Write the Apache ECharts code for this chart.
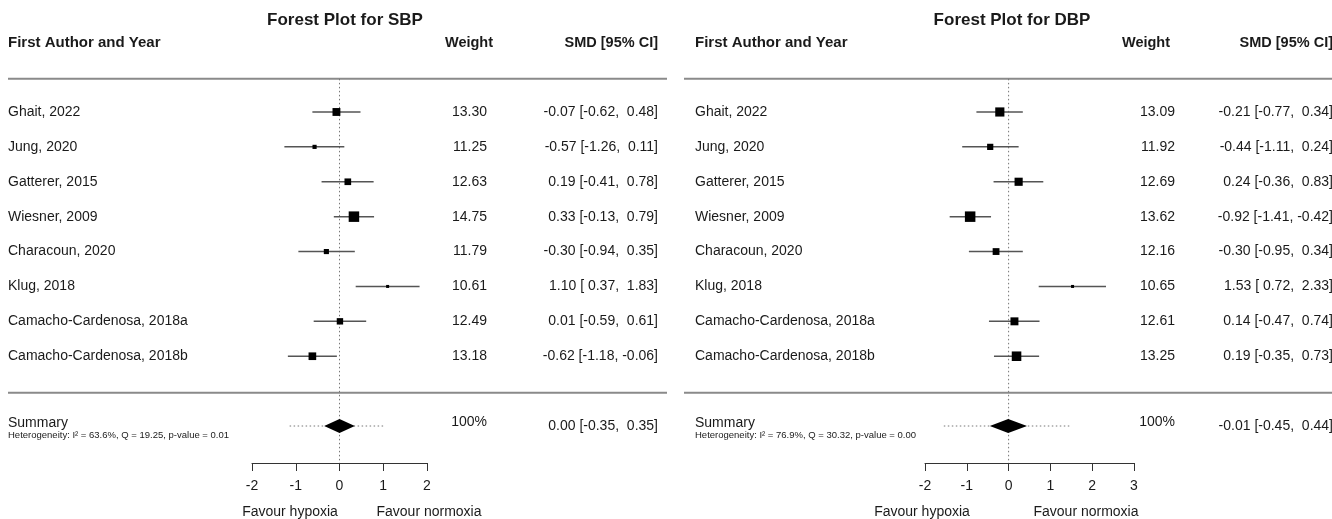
<!DOCTYPE html>
<html>
<head>
<meta charset="utf-8">
<script src="https://cdn.jsdelivr.net/npm/echarts@6/dist/echarts.min.js"></script>
<style>
  html, body { margin: 0; padding: 0; background: #fff; }
  #chart { width: 1332px; height: 519px; }
</style>
</head>
<body>
<div id="chart"></div>
<script>
// studies (same order in both plots)
const studies = [
  'Ghait, 2022', 'Jung, 2020', 'Gatterer, 2015', 'Wiesner, 2009',
  'Characoun, 2020', 'Klug, 2018', 'Camacho-Cardenosa, 2018a', 'Camacho-Cardenosa, 2018b'
];

// SBP
const sbpSmd    = [-0.07, -0.57, 0.19, 0.33, -0.30, 1.10, 0.01, -0.62];
const sbpLow    = [-0.62, -1.26, -0.41, -0.13, -0.94, 0.37, -0.59, -1.18];
const sbpHigh   = [0.48, 0.11, 0.78, 0.79, 0.35, 1.83, 0.61, -0.06];
const sbpWeight = [13.30, 11.25, 12.63, 14.75, 11.79, 10.61, 12.49, 13.18];
const sbpSummary = [0.00, -0.35, 0.35];
const sbpPredInt = [-1.14, 1.02];
const sbpHet = 'Heterogeneity: I² = 63.6%, Q = 19.25, p-value = 0.01';
const sbpTicks = [-2, -1, 0, 1, 2];

// DBP
const dbpSmd    = [-0.21, -0.44, 0.24, -0.92, -0.30, 1.53, 0.14, 0.19];
const dbpLow    = [-0.77, -1.11, -0.36, -1.41, -0.95, 0.72, -0.47, -0.35];
const dbpHigh   = [0.34, 0.24, 0.83, -0.42, 0.34, 2.33, 0.74, 0.73];
const dbpWeight = [13.09, 11.92, 12.69, 13.62, 12.16, 10.65, 12.61, 13.25];
const dbpSummary = [-0.01, -0.45, 0.44];
const dbpPredInt = [-1.55, 1.48];
const dbpHet = 'Heterogeneity: I² = 76.9%, Q = 30.32, p-value = 0.00';
const dbpTicks = [-2, -1, 0, 1, 2, 3];

const FONT = '"Liberation Sans", Arial, sans-serif';
const SUMMARY_ROW = 9;
const TOP_RULE = -0.95;
const BOTTOM_RULE = 8.05;
const AXIS_ROW = 10.06;

// layout per panel (pixel columns)
const panels = [
  {
    title: 'Forest Plot for SBP', titleX: 340,
    smd: sbpSmd, low: sbpLow, high: sbpHigh, weight: sbpWeight,
    summary: sbpSummary, pred: sbpPredInt, het: sbpHet, ticks: sbpTicks,
    gridLeft: 252, gridWidth: 175,
    nameX: 8, weightX: 487, weightHeadX: 469, smdX: 658, ruleX: [8, 667],
    favour: [290, 429]
  },
  {
    title: 'Forest Plot for DBP', titleX: 1007,
    smd: dbpSmd, low: dbpLow, high: dbpHigh, weight: dbpWeight,
    summary: dbpSummary, pred: dbpPredInt, het: dbpHet, ticks: dbpTicks,
    gridLeft: 925, gridWidth: 209,
    nameX: 695, weightX: 1175, weightHeadX: 1146, smdX: 1333, ruleX: [684, 1332],
    favour: [922, 1086]
  }
];

const fmt = v => (v < 0 ? '-' : '') + Math.abs(v).toFixed(2);
const fmtCI = (m, l, h) =>
  fmt(m) + ' [' + (l < 0 ? fmt(l) : ' ' + fmt(l)) + ', ' + (h < 0 ? fmt(h) : ' ' + fmt(h)) + ']';

function txt(text, x, y, opts) {
  return {
    type: 'text',
    style: Object.assign({
      text: text, x: x, y: y,
      fill: '#1a1a1a', fontSize: 14, fontFamily: FONT,
      align: 'left', verticalAlign: 'middle'
    }, opts || {})
  };
}

const grids = [], xAxes = [], yAxes = [], series = [], titles = [], graphics = [];

panels.forEach((p, pi) => {
  grids.push({ left: p.gridLeft, width: p.gridWidth, top: 7.3, bottom: 56 });
  xAxes.push({
    gridIndex: pi, type: 'value', position: 'bottom',
    min: p.ticks[0], max: p.ticks[p.ticks.length - 1], interval: 1,
    splitLine: { show: false },
    axisLine: { show: true, onZero: false, lineStyle: { color: '#333', width: 1 } },
    axisTick: { show: true, inside: false, length: 8, lineStyle: { color: '#333' } },
    axisLabel: { color: '#1a1a1a', fontSize: 14, fontFamily: FONT, margin: 16 }
  });
  yAxes.push({
    gridIndex: pi, type: 'value', inverse: true, min: -3, max: AXIS_ROW, show: false
  });

  const minW = Math.min.apply(null, p.weight);
  const maxW = Math.max.apply(null, p.weight);

  // frame: rules + zero line
  series.push({
    type: 'custom', xAxisIndex: pi, yAxisIndex: pi, clip: false, silent: true,
    data: [[0]],
    renderItem: (params, api) => {
      const top = api.coord([0, TOP_RULE]);
      const bot = api.coord([0, BOTTOM_RULE]);
      const ax = api.coord([0, AXIS_ROW]);
      const ruleStyle = { stroke: '#8a8a8a', lineWidth: 2 };
      return {
        type: 'group',
        children: [
          { type: 'line', shape: { x1: p.ruleX[0], y1: top[1], x2: p.ruleX[1], y2: top[1] }, style: ruleStyle },
          { type: 'line', shape: { x1: p.ruleX[0], y1: bot[1], x2: p.ruleX[1], y2: bot[1] }, style: ruleStyle },
          { type: 'line', shape: { x1: top[0], y1: top[1], x2: ax[0], y2: ax[1] },
            style: { stroke: '#777', lineWidth: 1, lineDash: [1.5, 2.5] } }
        ]
      };
    }
  });

  // studies
  series.push({
    type: 'custom', xAxisIndex: pi, yAxisIndex: pi, clip: false, silent: true,
    data: studies.map((s, i) => [p.smd[i], p.low[i], p.high[i], p.weight[i], i]),
    encode: { x: [0, 1, 2], y: 4 },
    renderItem: (params, api) => {
      const i = params.dataIndex;
      const row = api.value(4);
      const c = api.coord([api.value(0), row]);
      const lo = api.coord([api.value(1), row]);
      const hi = api.coord([api.value(2), row]);
      const size = 3 + 7.5 * (api.value(3) - minW) / (maxW - minW);
      return {
        type: 'group',
        children: [
          { type: 'line', shape: { x1: lo[0], y1: lo[1], x2: hi[0], y2: hi[1] },
            style: { stroke: '#555', lineWidth: 1.5 } },
          { type: 'rect', shape: { x: c[0] - size / 2, y: c[1] - size / 2, width: size, height: size },
            style: { fill: '#000' } },
          txt(studies[i], p.nameX, c[1]),
          txt(api.value(3).toFixed(2), p.weightX, c[1], { align: 'right' }),
          txt(fmtCI(api.value(0), api.value(1), api.value(2)), p.smdX, c[1], { align: 'right' })
        ]
      };
    }
  });

  // summary diamond
  series.push({
    type: 'custom', xAxisIndex: pi, yAxisIndex: pi, clip: false, silent: true,
    data: [[p.summary[0], p.summary[1], p.summary[2], p.pred[0], p.pred[1], SUMMARY_ROW]],
    renderItem: (params, api) => {
      const row = api.value(5);
      const c = api.coord([api.value(0), row]);
      const lo = api.coord([api.value(1), row]);
      const hi = api.coord([api.value(2), row]);
      const pl = api.coord([api.value(3), row]);
      const ph = api.coord([api.value(4), row]);
      const h = 7;
      return {
        type: 'group',
        children: [
          { type: 'line', shape: { x1: pl[0], y1: c[1], x2: ph[0], y2: c[1] },
            style: { stroke: '#777', lineWidth: 1, lineDash: [1.5, 2.5] } },
          { type: 'polygon', shape: { points: [[lo[0], c[1]], [c[0], c[1] - h], [hi[0], c[1]], [c[0], c[1] + h]] },
            style: { fill: '#000' } },
          txt('Summary', p.nameX, c[1] - 3),
          txt(p.het, p.nameX, c[1] + 9, { fontSize: 9.5 }),
          txt('100%', p.weightX, c[1] - 4, { align: 'right' }),
          txt(fmtCI(api.value(0), api.value(1), api.value(2)), p.smdX, c[1], { align: 'right' })
        ]
      };
    }
  });

  titles.push({
    text: p.title, left: p.titleX, top: 7, textAlign: 'center',
    textStyle: { fontSize: 17, fontWeight: 'bold', fontFamily: FONT, color: '#1a1a1a' }
  });

  graphics.push(
    txt('First Author and Year', p.nameX, 43, { fontWeight: 'bold', fontSize: 15 }),
    txt('Weight', p.weightHeadX, 43, { align: 'center', fontWeight: 'bold', fontSize: 14.5 }),
    txt('SMD [95% CI]', p.smdX, 43, { align: 'right', fontWeight: 'bold', fontSize: 14.5 }),
    txt('Favour hypoxia', p.favour[0], 512, { align: 'center' }),
    txt('Favour normoxia', p.favour[1], 512, { align: 'center' })
  );
});

const chart = echarts.init(document.getElementById('chart'));
chart.setOption({
  animation: false,
  backgroundColor: '#fff',
  title: titles,
  grid: grids,
  xAxis: xAxes,
  yAxis: yAxes,
  series: series,
  graphic: graphics
});
</script>
</body>
</html>
